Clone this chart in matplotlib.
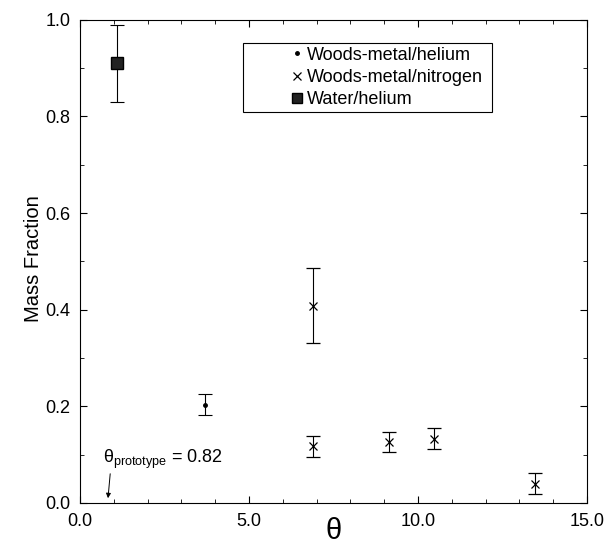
import matplotlib
matplotlib.use("Agg")
import matplotlib.pyplot as plt
from matplotlib.lines import Line2D
from matplotlib.patches import Rectangle
from matplotlib.ticker import MultipleLocator, FormatStrFormatter

plt.rcParams['font.family'] = ['Liberation Sans', 'DejaVu Sans']
plt.rcParams['mathtext.fontset'] = 'custom'
plt.rcParams['mathtext.rm'] = 'Liberation Sans'

# données
theta_he = [3.70]
mf_he = [0.203]
err_he = [0.022]

theta_n2 = [6.9, 6.9, 9.15, 10.47, 13.46]
mf_n2 = [0.408, 0.117, 0.126, 0.133, 0.040]
err_n2 = [0.078, 0.021, 0.021, 0.021, 0.021]

theta_water = [1.09]
mf_water = [0.91]
err_water = [0.08]

theta_proto = 0.82

fig = plt.figure(figsize=(6.04, 5.49), dpi=100)
ax = fig.add_axes([0.1325, 0.084, 0.8395, 0.88])

ax.errorbar(theta_he, mf_he, yerr=err_he, fmt='.', color='black', ms=5,
            capsize=5, elinewidth=0.8, capthick=0.8)
ax.errorbar(theta_n2, mf_n2, yerr=err_n2, fmt='x', color='black', ms=6, mew=0.9,
            capsize=5, elinewidth=0.8, capthick=0.8)
ax.errorbar(theta_water, mf_water, yerr=err_water, fmt='s', color='black', ms=8,
            mfc='#222222', capsize=5, elinewidth=0.8, capthick=0.8)

# flèche vers theta prototype
ax.annotate('', xy=(theta_proto, 0.004), xytext=(0.9, 0.066),
            arrowprops=dict(arrowstyle='-|>', color='black', lw=0.7,
                            mutation_scale=7))
ax.text(0.68, 0.089, r'$\mathrm{\theta}_{\mathrm{prototype}}$ = 0.82',
        fontsize=13, va='center', ha='left')

ax.set_xlim(0, 15)
ax.set_ylim(0, 1.0)
ax.xaxis.set_major_locator(MultipleLocator(5))
ax.xaxis.set_minor_locator(MultipleLocator(1))
ax.yaxis.set_major_locator(MultipleLocator(0.2))
ax.yaxis.set_minor_locator(MultipleLocator(0.1))
ax.xaxis.set_major_formatter(FormatStrFormatter('%.1f'))
ax.yaxis.set_major_formatter(FormatStrFormatter('%.1f'))
ax.tick_params(which='both', direction='in', top=True, right=True, labelsize=13)
ax.tick_params(which='major', length=5, pad=7)
ax.tick_params(which='minor', length=3)

ax.set_ylabel('Mass Fraction', fontsize=14.5)
ax.yaxis.set_label_coords(-0.074, 0.505)
ax.set_xlabel('θ', fontsize=21, labelpad=-9)

# légende sans cadre + cadre dessiné à part (marge à gauche comme l'original)
handles = [
    Line2D([], [], ls='none', marker='.', color='black', ms=5),
    Line2D([], [], ls='none', marker='x', color='black', ms=6, mew=0.9),
    Line2D([], [], ls='none', marker='s', color='black', mfc='#222222', ms=7),
]
labels = ['Woods-metal/helium', 'Woods-metal/nitrogen', 'Water/helium']
ax.legend(handles, labels, loc='upper left', bbox_to_anchor=(0.414, 0.944),
          fontsize=13, frameon=False, handletextpad=0.15, handlelength=0.8,
          borderpad=0, labelspacing=0.28, borderaxespad=0)
ax.add_patch(Rectangle((0.3215, 0.8095), 0.491, 0.1425, transform=ax.transAxes,
                       fill=False, edgecolor='black', lw=0.8))

plt.savefig('out.png', dpi=100)
